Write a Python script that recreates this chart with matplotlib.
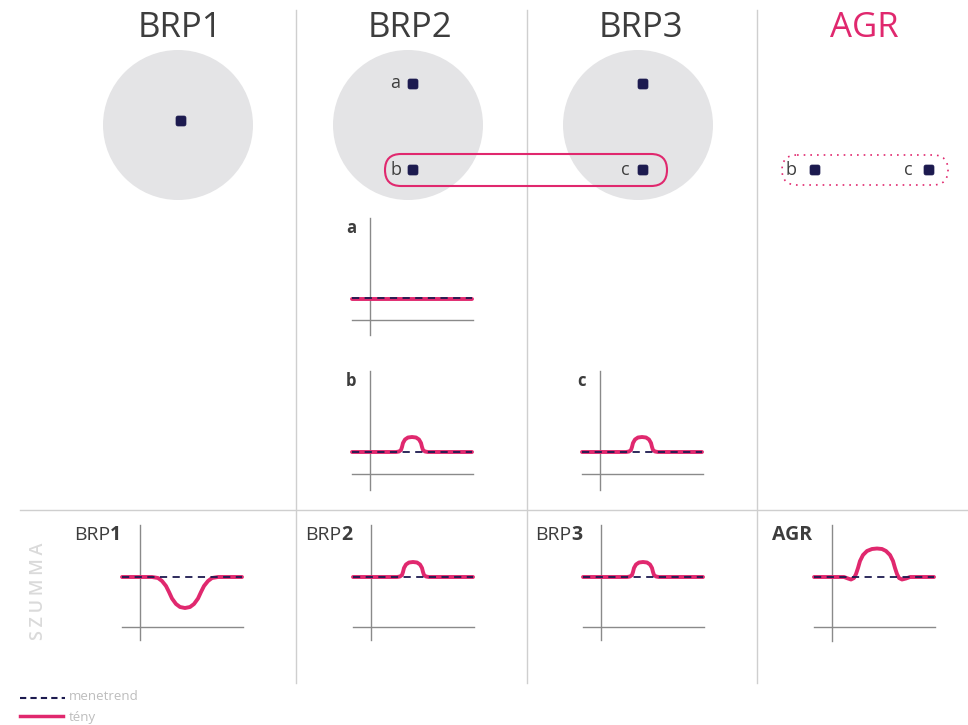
import matplotlib.pyplot as plt
from matplotlib.patches import Circle, FancyBboxPatch

plt.rcParams['font.family'] = ['Open Sans', 'DejaVu Sans']

W, H = 968, 725
PINK = "#e0286e"
NAVY = "#1c1a4f"
GRID = "#cfcfcf"
TEXT = "#3d3d3d"

# column headers
columns = ["BRP1", "BRP2", "BRP3", "AGR"]

# curve data: x = px right of the y axis, y = px above the x axis
flat_x = [-18, 102]
sched_top = [22, 22]

bump_x = [-18, 26, 29, 31, 32, 33, 35, 38, 42, 46, 49, 51, 52, 53, 55, 58, 102]
bump_y = [22, 22, 22.5, 24, 27, 31, 34.5, 36.5, 37, 36.5, 34.5, 31, 27, 24, 22.5, 22, 22]

bump_sum_y = [50, 50, 50.5, 52, 55, 59, 62.5, 64.5, 65, 64.5, 62.5, 59, 55, 52, 50.5, 50, 50]

dip_x = [-18, 12, 18, 22, 26, 29, 32, 36, 40, 45, 50, 54, 58, 61, 64, 68, 72, 78, 102]
dip_y = [50, 50, 49, 46, 41, 35, 28.5, 23, 20, 19, 20, 23, 28.5, 35, 41, 46, 49, 50, 50]

agr_x = [-18, 12, 16, 19, 22, 24, 26, 28, 31, 35, 40, 45, 50, 54, 58, 61, 63, 65, 67, 70, 74, 78, 102]
agr_y = [50, 50, 48.5, 47.5, 49, 53, 59, 66, 72, 76, 78, 78.5, 78, 76, 72, 66, 59, 53, 49, 47.5, 48.5, 50, 50]

fig = plt.figure(figsize=(W / 100, H / 100), dpi=100)
ax = fig.add_axes([0, 0, 1, 1])
ax.set_xlim(0, W)
ax.set_ylim(H, 0)
ax.axis("off")

# separators
for x in [296, 527, 757]:
    ax.plot([x, x], [10, 683], color=GRID, lw=1)
ax.plot([20, W], [510, 510], color=GRID, lw=1)

# headers
for name, x in zip(columns, [180, 410, 641, 864]):
    ax.text(x, 28, name, ha="center", va="center", fontsize=25,
            color=PINK if name == "AGR" else TEXT)

# portfolio circles
for cx in [178, 408, 638]:
    ax.add_patch(Circle((cx, 125), 75, color="#e4e4e6", lw=0, zorder=1))

ax.add_patch(FancyBboxPatch((385, 154), 282, 32, boxstyle="round,pad=0,rounding_size=16",
                            fill=False, ec=PINK, lw=1.5, zorder=3))
ax.add_patch(FancyBboxPatch((782, 155), 166, 30, boxstyle="round,pad=0,rounding_size=15",
                            fill=False, ec=PINK, lw=1.2, ls=(0, (1, 3)), zorder=3))

pts_x = [181, 413, 413, 643, 643, 815, 929]
pts_y = [121, 84, 170, 84, 170, 170, 170]
for x, y in zip(pts_x, pts_y):
    ax.add_patch(FancyBboxPatch((x - 5, y - 5), 10, 10, boxstyle="round,pad=0,rounding_size=2",
                                fc=NAVY, ec=NAVY, lw=0.5, zorder=4))
for lab, x, y in [("a", 395, 83), ("b", 396, 170), ("c", 625, 170),
                  ("b", 791, 170), ("c", 908, 170)]:
    ax.text(x, y, lab, ha="center", va="center", fontsize=13, color=TEXT, zorder=5)


def mini(vx, hy, xs, ys, base, top, bottom):
    a = fig.add_axes([(vx - 25) / W, 1 - (hy + 25) / H, 135 / W, (hy + 25 - top + 5) / H])
    a.set_xlim(-25, 110)
    a.set_ylim(-25, hy - top + 5)
    a.axis("off")
    a.plot([0, 0], [-bottom, hy - top], color="#8a8a8a", lw=1)
    a.plot([-18, 103], [0, 0], color="#8a8a8a", lw=1)
    a.plot(xs, ys, color=PINK, lw=2.8, solid_capstyle="round")
    a.plot(flat_x, [base, base], color=NAVY, lw=1.3, ls=(0, (4, 3)))
    return a


mini(370, 320, flat_x, [21.5, 21.5], 22, 218, 15)
mini(370, 474, bump_x, bump_y, 22, 371, 16)
mini(600, 474, bump_x, bump_y, 22, 371, 16)
mini(140, 627, dip_x, dip_y, 50, 525, 13)
mini(371, 627, bump_x, bump_sum_y, 50, 525, 13)
mini(601, 627, bump_x, bump_sum_y, 50, 525, 13)
mini(832, 627, agr_x, agr_y, 50, 525, 14)

ax.text(351, 228, "a", fontsize=12, fontweight="bold", color=TEXT, ha="center", va="center")
ax.text(351, 381, "b", fontsize=12, fontweight="bold", color=TEXT, ha="center", va="center")
ax.text(581, 381, "c", fontsize=12, fontweight="bold", color=TEXT, ha="center", va="center")

for base, num, x in [("BRP", "1", 74), ("BRP", "2", 305), ("BRP", "3", 535)]:
    t = ax.text(x, 535, base, fontsize=14, color=TEXT, va="center")
    fig.canvas.draw()
    bb = t.get_window_extent()
    ax.text(x + bb.width, 535, num, fontsize=14, fontweight="bold", color=TEXT, va="center")
ax.text(772, 535, "AGR", fontsize=14, fontweight="bold", color=TEXT, va="center")

ax.text(38, 591, "S\u2009Z\u2009U\u2009M\u2009M\u2009A", rotation=90, fontsize=13,
        fontweight="semibold", color="#dadada", ha="center", va="center")

# legend
ax.plot([20, 65], [698, 698], color=NAVY, lw=1.5, ls=(0, (3, 2)))
ax.text(69, 697, "menetrend", fontsize=9.5, color="#bdbdbd", va="center")
ax.plot([20, 63], [716, 716], color=PINK, lw=2.5)
ax.text(69, 717, "tény", fontsize=9.5, color="#bdbdbd", va="center")

fig.savefig("out.png", dpi=100)
